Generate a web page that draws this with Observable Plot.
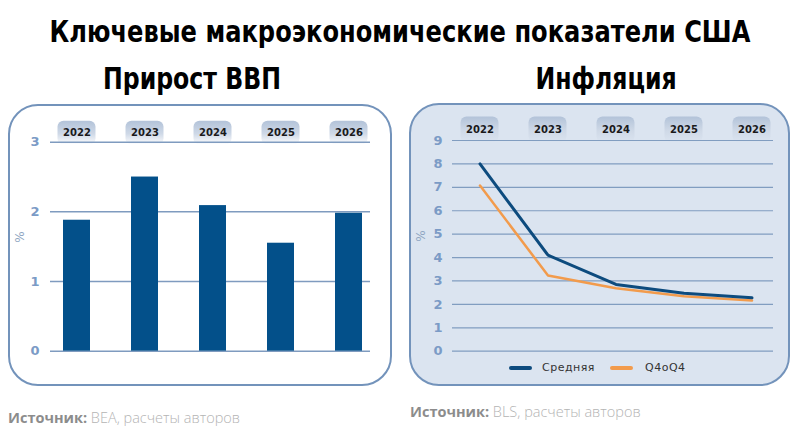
<!DOCTYPE html>
<html><head><meta charset="utf-8">
<script src="https://cdn.jsdelivr.net/npm/d3@7"></script>
<script src="https://cdn.jsdelivr.net/npm/@observablehq/plot@0.6"></script>
<style>
body{margin:0;background:#fff;}
#wrap{position:relative;width:800px;height:443px;overflow:hidden;}
.t{position:absolute;white-space:nowrap;font-family:"Liberation Sans Narrow","DejaVu Sans Condensed",sans-serif;font-weight:bold;color:#000;transform-origin:50% 50%;}
.box{position:absolute;box-sizing:border-box;border:2px solid #7393bb;border-radius:30px;}
.plot{position:absolute;}
.src{position:absolute;white-space:nowrap;font-family:"Open Sans",sans-serif;font-size:14.5px;color:#b4b4b4;font-weight:300;}
.src b{color:#8c8c8c;font-weight:700;}
.leg{position:absolute;font-family:"DejaVu Sans",sans-serif;font-size:11px;color:#333;letter-spacing:0.5px;}
.sw{position:absolute;height:4px;width:23px;border-radius:2px;}
</style></head>
<body><div id="wrap">
<div class="t" id="title" style="left:0;width:800px;text-align:center;top:14px;font-size:30px;transform:scaleX(0.895);">Ключевые макроэкономические показатели США</div>
<div class="t" style="left:0;width:384px;text-align:center;top:61px;font-size:30px;transform:scaleX(0.875);">Прирост ВВП</div>
<div class="t" style="left:409px;width:394px;text-align:center;top:61px;font-size:30px;transform:scaleX(0.875);">Инфляция</div>
<div class="box" style="left:8px;top:104px;width:384px;height:282px;background:#fff;"></div>
<div class="box" style="left:409px;top:103px;width:381px;height:283px;background:#dbe4f0;"></div>
<div class="plot" id="left" style="left:8px;top:104px;"></div>
<div class="plot" id="right" style="left:409px;top:103px;"></div>
<div class="sw" style="left:509px;top:366px;background:#0d4b7e;"></div>
<div class="leg" style="left:542px;top:361px;">Средняя</div>
<div class="sw" style="left:610px;top:366px;background:#f29b4c;"></div>
<div class="leg" style="left:645px;top:361px;">Q4oQ4</div>
<div class="src" style="left:8px;top:408px;"><b>Источник:</b> BEA, расчеты авторов</div>
<div class="src" style="left:410px;top:402px;"><b>Источник:</b> BLS, расчеты авторов</div>
</div>
<script>
const years = ["2022", "2023", "2024", "2025", "2026"];
const gdpGrowth = [1.88, 2.5, 2.09, 1.55, 1.98];
const inflationAvg = [8.0, 4.1, 2.85, 2.48, 2.28];
const inflationQ4 = [7.08, 3.23, 2.69, 2.35, 2.17];
const gdpTicks = [0, 1, 2, 3];
const inflTicks = [0, 1, 2, 3, 4, 5, 6, 7, 8, 9];

const gdpData = years.map((y, i) => ({year: y, value: gdpGrowth[i]}));
const inflData = [
  ...years.map((y, i) => ({year: y, value: inflationAvg[i], series: "Средняя"})),
  ...years.map((y, i) => ({year: y, value: inflationQ4[i], series: "Q4oQ4"}))
];

function addGrad(svg, id, bottom) {
  const ns = "http://www.w3.org/2000/svg";
  const defs = document.createElementNS(ns, "defs");
  defs.innerHTML = `<linearGradient id="${id}" x1="0" y1="0" x2="0" y2="1">
    <stop offset="0" stop-color="#b3c3d9"/><stop offset="0.55" stop-color="#cfd9e7"/><stop offset="1" stop-color="${bottom}"/></linearGradient>`;
  svg.insertBefore(defs, svg.firstChild);
}

const axisText = {fill: "#7b9bc6", fontSize: 13, fontWeight: "bold", fontFamily: "DejaVu Sans, sans-serif"};

const left = Plot.plot({
  width: 384, height: 282,
  marginLeft: 42, marginRight: 22, marginTop: 37.7, marginBottom: 35.3,
  style: {background: "transparent", overflow: "visible"},
  x: {type: "band", domain: years, range: [44.5, 364.5], paddingInner: 0.6, paddingOuter: 0.15, axis: null},
  y: {domain: [0, 3], axis: null},
  marks: [
    Plot.barY(years, {x: d => d, y1: 2.96, y2: 3.3, insetLeft: -5.5, insetRight: -5.5, rx: 6, fill: "url(#tabL)"}),
    Plot.text(years, {x: d => d, y: 3.14, text: d => d, fill: "#1a1a1a", fontWeight: "bold", fontSize: 10, fontFamily: "DejaVu Sans, sans-serif"}),
    Plot.ruleY(gdpTicks, {stroke: "#7f9bbf", strokeWidth: 1.5}),
    Plot.barY(gdpData, {x: "year", y: "value", fill: "#03508a"}),
    Plot.axisY(gdpTicks, {tickSize: 0, tickPadding: 11, label: null, tickFormat: d => d, ...axisText}),
    Plot.text(["%"], {frameAnchor: "left", dx: -30, dy: -4, text: d => d, rotate: -90, fill: "#8fa6c2", fontSize: 12, fontFamily: "DejaVu Sans, sans-serif"})
  ]
});
addGrad(left, "tabL", "#ffffff");
document.getElementById("left").appendChild(left);

const right = Plot.plot({
  width: 381, height: 282,
  marginLeft: 43, marginRight: 17, marginTop: 37, marginBottom: 34.3,
  style: {background: "transparent", overflow: "visible"},
  x: {type: "band", domain: years, range: [47.2, 366.8], paddingInner: 0.6, paddingOuter: 0.15, axis: null},
  y: {domain: [0, 9], axis: null},
  marks: [
    Plot.barY(years, {x: d => d, y1: 8.9, y2: 10.0, insetLeft: -5.5, insetRight: -5.5, rx: 6, fill: "url(#tabR)"}),
    Plot.text(years, {x: d => d, y: 9.45, text: d => d, fill: "#1a1a1a", fontWeight: "bold", fontSize: 10, fontFamily: "DejaVu Sans, sans-serif"}),
    Plot.ruleY(inflTicks, {stroke: "#819dc0", strokeWidth: 1.2}),
    Plot.line(inflData.filter(d => d.series === "Q4oQ4"), {x: "year", y: "value", stroke: "#f29b4c", strokeWidth: 2.5}),
    Plot.line(inflData.filter(d => d.series === "Средняя"), {x: "year", y: "value", stroke: "#0d4b7e", strokeWidth: 3}),
    Plot.axisY(inflTicks, {tickSize: 0, tickPadding: 10, label: null, tickFormat: d => d, ...axisText}),
    Plot.text(["%"], {frameAnchor: "left", dx: -31, dy: -4, text: d => d, rotate: -90, fill: "#8fa6c2", fontSize: 12, fontFamily: "DejaVu Sans, sans-serif"})
  ]
});
addGrad(right, "tabR", "#dbe4f0");
document.getElementById("right").appendChild(right);
</script>
</body></html>
